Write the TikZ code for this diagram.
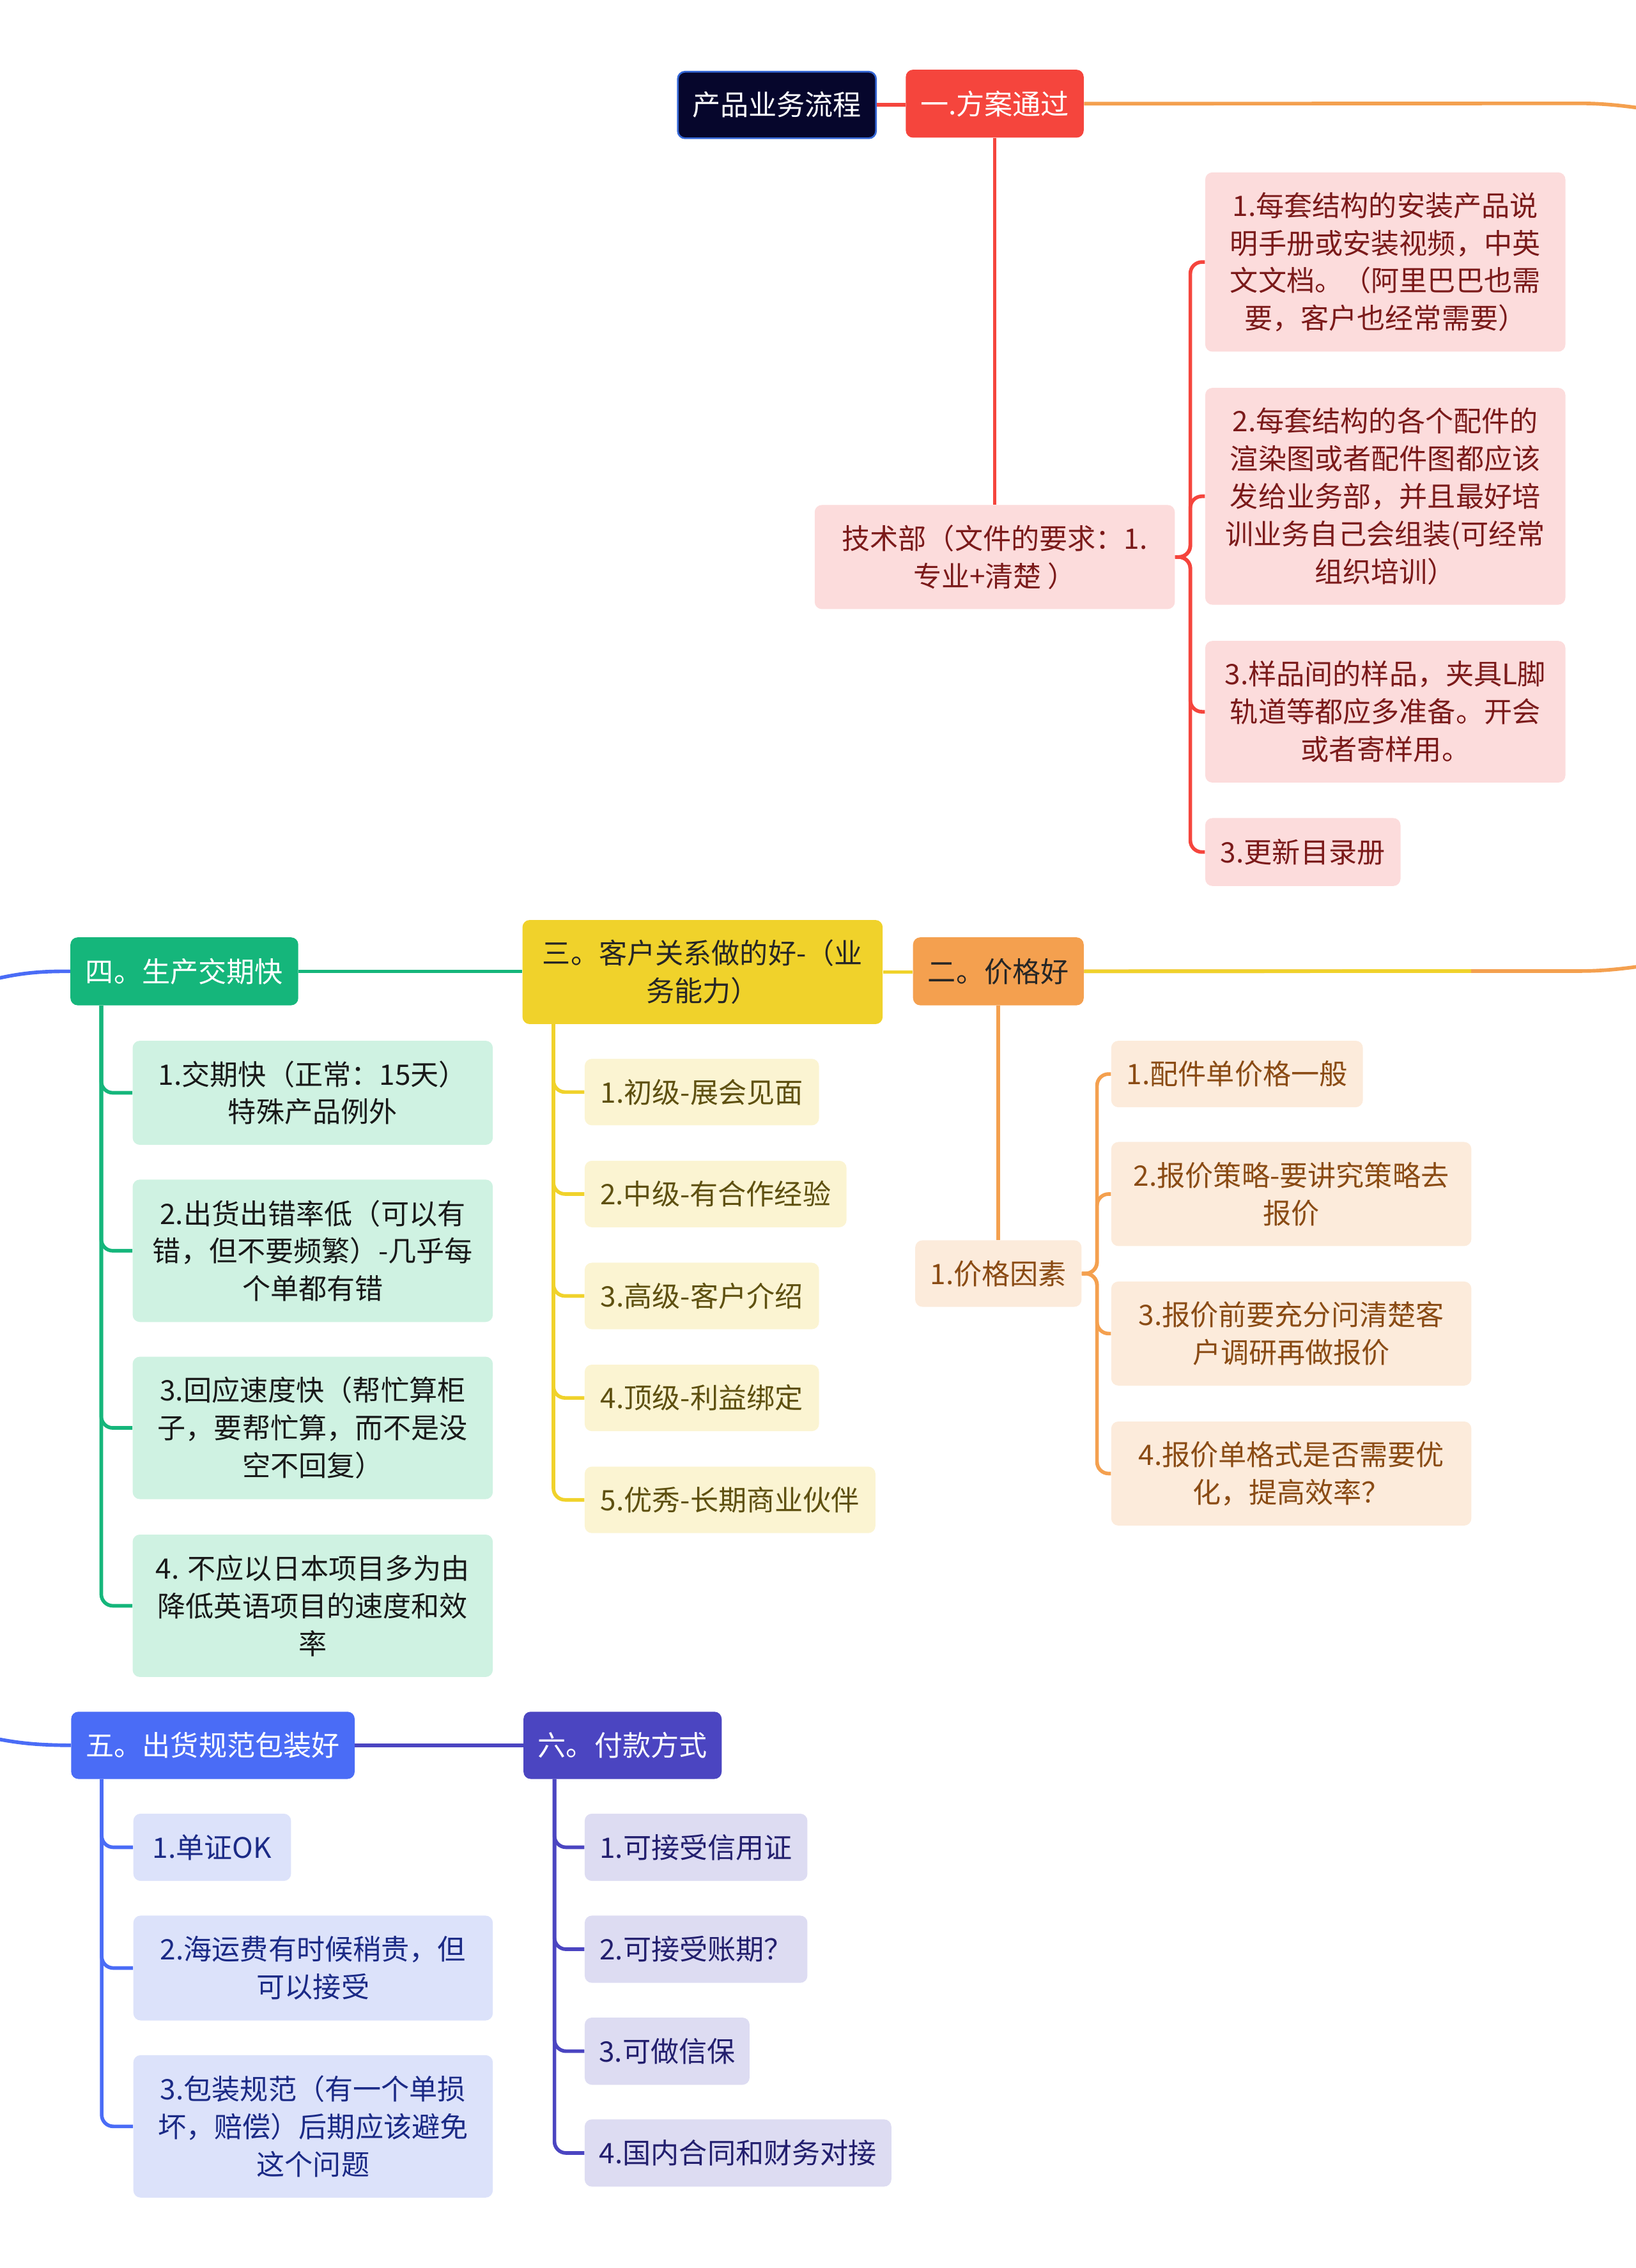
\documentclass[tikz,border=0pt]{standalone}
\usepackage{fontspec}
\setmainfont{Noto Sans CJK SC}
\usetikzlibrary{positioning}

\definecolor{rootc}{HTML}{06062C}
\definecolor{rootb}{HTML}{3567D6}
\definecolor{redc}{HTML}{F5453D}
\definecolor{redl}{HTML}{FCDCDC}
\definecolor{redt}{HTML}{7B1A1A}
\definecolor{orangec}{HTML}{F4A04F}
\definecolor{orangel}{HTML}{FCEBDB}
\definecolor{oranget}{HTML}{8A4B14}
\definecolor{yellowc}{HTML}{F0D22B}
\definecolor{yellowl}{HTML}{FBF4D2}
\definecolor{yellowt}{HTML}{5E5010}
\definecolor{greenc}{HTML}{15B67B}
\definecolor{greenl}{HTML}{CFF2E2}
\definecolor{bluec}{HTML}{4A6CF6}
\definecolor{bluel}{HTML}{DCE2FA}
\definecolor{bluet}{HTML}{1B2A86}
\definecolor{indigoc}{HTML}{4B45C1}
\definecolor{indigol}{HTML}{DDDCF2}
\definecolor{indigot}{HTML}{231F6E}

\begin{document}
\begin{tikzpicture}[
        x=1pt, y=-1pt,
        font=\fontsize{19.5}{26}\selectfont,
        every node/.style={anchor=north west, align=center, inner sep=0pt, rounded corners=5pt},
        wh/.style 2 args={minimum width=#1, minimum height=#2},
        rootbox/.style={fill=rootc, draw=rootb, line width=1.2pt, text=white},
        topic/.style 2 args={fill=#1, text=#2},
        conn/.style={draw=#1, line width=2.5pt, rounded corners=8pt},
    ]
    \useasboundingbox (0,0) rectangle (1131,1568.4);

    \node[rootbox, wh={137}{46}] (root) at (468,49) {产品业务流程};
    \node[topic={redc}{white}, wh={123}{47}] (plan) at (626,48) {一.方案通过};
    \node[topic={redl}{redt}, wh={249}{72}] (tech) at (563,349) {技术部（文件的要求：1.\\专业+清楚 ）};
    \node[topic={redl}{redt}, wh={249}{124}] (r1) at (833,119) {1.每套结构的安装产品说\\明手册或安装视频，中英\\文文档。（阿里巴巴也需\\要，客户也经常需要）};
    \node[topic={redl}{redt}, wh={249}{150}] (r2) at (833,268) {2.每套结构的各个配件的\\渲染图或者配件图都应该\\发给业务部，并且最好培\\训业务自己会组装(可经常\\组织培训）};
    \node[topic={redl}{redt}, wh={249}{98}] (r3) at (833,443) {3.样品间的样品，夹具L脚\\轨道等都应多准备。开会\\或者寄样用。};
    \node[topic={redl}{redt}, wh={135}{47}] (r4) at (833,565.5) {3.更新目录册};

    \node[topic={greenc}{white}, wh={157.5}{47}] (prod) at (48.5,648) {四。生产交期快};
    \node[topic={yellowc}{black!85}, wh={249}{72}] (cust) at (361,636) {三。客户关系做的好-（业\\务能力）};
    \node[topic={orangec}{black!85}, wh={118}{47}] (price) at (631,648) {二。价格好};

    \node[topic={greenl}{black!90}, wh={249}{72}] (g1) at (91.5,719.5) {1.交期快（正常：15天）\\特殊产品例外};
    \node[topic={greenl}{black!90}, wh={249}{98.5}] (g2) at (91.5,815.5) {2.出货出错率低（可以有\\错，但不要频繁）-几乎每\\个单都有错};
    \node[topic={greenl}{black!90}, wh={249}{98.5}] (g3) at (91.5,938) {3.回应速度快（帮忙算柜\\子，要帮忙算，而不是没\\空不回复）};
    \node[topic={greenl}{black!90}, wh={249}{98.5}] (g4) at (91.5,1061) {4. 不应以日本项目多为由\\降低英语项目的速度和效\\率};

    \node[topic={yellowl}{yellowt}, wh={162}{46}] (y1) at (404,732) {1.初级-展会见面};
    \node[topic={yellowl}{yellowt}, wh={181}{46}] (y2) at (404,802.5) {2.中级-有合作经验};
    \node[topic={yellowl}{yellowt}, wh={162}{46}] (y3) at (404,873) {3.高级-客户介绍};
    \node[topic={yellowl}{yellowt}, wh={162}{46}] (y4) at (404,943.5) {4.顶级-利益绑定};
    \node[topic={yellowl}{yellowt}, wh={201}{46}] (y5) at (404,1014) {5.优秀-长期商业伙伴};

    \node[topic={orangel}{oranget}, wh={115}{46}] (factor) at (632.5,857.5) {1.价格因素};
    \node[topic={orangel}{oranget}, wh={174}{46}] (o1) at (768,719.5) {1.配件单价格一般};
    \node[topic={orangel}{oranget}, wh={249}{72}] (o2) at (768,789.5) {2.报价策略-要讲究策略去\\报价};
    \node[topic={orangel}{oranget}, wh={249}{72}] (o3) at (768,886) {3.报价前要充分问清楚客\\户调研再做报价};
    \node[topic={orangel}{oranget}, wh={249}{72}] (o4) at (768,982.8) {4.报价单格式是否需要优\\化，提高效率？};

    \node[topic={bluec}{white}, wh={196}{46.5}] (ship) at (49,1183.5) {五。出货规范包装好};
    \node[topic={indigoc}{white}, wh={137}{46.5}] (pay) at (361.7,1183.5) {六。付款方式};

    \node[topic={bluel}{bluet}, wh={109}{46.5}] (b1) at (92,1254) {1.单证OK};
    \node[topic={bluel}{bluet}, wh={248.5}{72.5}] (b2) at (92,1324.5) {2.海运费有时候稍贵，但\\可以接受};
    \node[topic={bluel}{bluet}, wh={248.5}{98.5}] (b3) at (92,1421) {3.包装规范（有一个单损\\坏，赔偿）后期应该避免\\这个问题};

    \node[topic={indigol}{indigot}, wh={154}{46.5}] (p1) at (404,1254) {1.可接受信用证};
    \node[topic={indigol}{indigot}, wh={154}{46.5}] (p2) at (404,1324.5) {2.可接受账期？};
    \node[topic={indigol}{indigot}, wh={114}{46.5}] (p3) at (404,1395) {3.可做信保};
    \node[topic={indigol}{indigot}, wh={212}{46.5}] (p4) at (404,1465.4) {4.国内合同和财务对接};

    \coordinate (offtop) at (1175,82);
    \coordinate (offmid) at (1175,661);
    \coordinate (offprod) at (-30,684);
    \coordinate (offship) at (-30,1196);

    \draw[conn=redc] (root.east) -- (root.east -| plan.west);
    \draw[conn=orangec] (plan.east) -- (1085,71.5) .. controls (1115,71.5) and (1140,75) .. (offtop);
    \draw[conn=redc] (plan) -- (tech);
    \foreach \n in {r1,r2,r3,r4}
        \draw[conn=redc] (tech.east) -- ++(10.5,0) |- (\n.west);

    \draw[conn=orangec] (price.east) -- (1085,671.5) .. controls (1115,671.5) and (1140,668) .. (offmid);
    \draw[conn=yellowc] (cust.east) -- (cust.east -| price.west);
    \draw[conn=yellowc] (price.east) -- (1017,671.5);
    \draw[conn=greenc] (prod.east) -- (prod.east -| cust.west);
    \draw[conn=bluec] (prod.west) .. controls (20,671.5) and (5,674) .. (offprod);
    \draw[conn=bluec] (ship.west) .. controls (20,1206.7) and (5,1205) .. (offship);
    \draw[conn=indigoc] (ship.east) -- (ship.east -| pay.west);

    \foreach \n in {g1,g2,g3,g4}
        \draw[conn=greenc] ([xshift=21.5pt]prod.south west) |- (\n.west);
    \foreach \n in {y1,y2,y3,y4,y5}
        \draw[conn=yellowc] ([xshift=21.6pt]cust.south west) |- (\n.west);
    \draw[conn=orangec] (price) -- (factor);
    \foreach \n in {o1,o2,o3,o4}
        \draw[conn=orangec] (factor.east) -- ++(10.5,0) |- (\n.west);
    \foreach \n in {b1,b2,b3}
        \draw[conn=bluec] ([xshift=21.3pt]ship.south west) |- (\n.west);
    \foreach \n in {p1,p2,p3,p4}
        \draw[conn=indigoc] ([xshift=21.6pt]pay.south west) |- (\n.west);
\end{tikzpicture}
\end{document}
